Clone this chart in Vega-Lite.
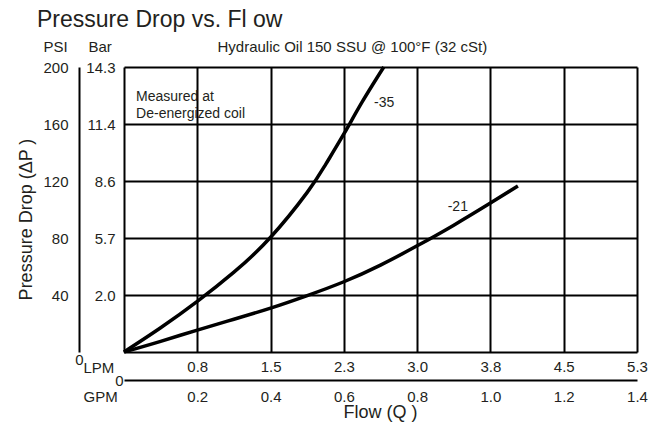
{
  "$schema": "https://vega.github.io/schema/vega-lite/v6.json",
  "width": 513,
  "height": 285,
  "autosize": {"type": "none"},
  "padding": {"left": 124, "top": 67, "right": 20, "bottom": 70},
  "background": "white",
  "config": {
    "font": "Liberation Sans",
    "view": {"stroke": null},
    "axis": {
      "labelFont": "Liberation Sans",
      "titleFont": "Liberation Sans",
      "labelColor": "#231f20",
      "titleColor": "#231f20",
      "titleFontWeight": "normal",
      "labelFontSize": 15,
      "titleFontSize": 15,
      "labelOverlap": false,
      "labelFlush": false,
      "tickSize": 0
    }
  },
  "title": {
    "text": "Pressure Drop vs. Fl ow",
    "anchor": "start",
    "frame": "group",
    "dx": -87,
    "offset": 7,
    "fontSize": 23,
    "fontWeight": "normal",
    "font": "Liberation Sans",
    "color": "#231f20"
  },
  "datasets": {
    "curves": [
      {"series": "-35", "gpm": 0, "psi": 0},
      {"series": "-35", "gpm": 0.1, "psi": 17},
      {"series": "-35", "gpm": 0.2, "psi": 35.5},
      {"series": "-35", "gpm": 0.3, "psi": 56},
      {"series": "-35", "gpm": 0.4, "psi": 80.5},
      {"series": "-35", "gpm": 0.5, "psi": 112},
      {"series": "-35", "gpm": 0.55, "psi": 131.5},
      {"series": "-35", "gpm": 0.6, "psi": 153},
      {"series": "-35", "gpm": 0.65, "psi": 175.5},
      {"series": "-35", "gpm": 0.709, "psi": 200},
      {"series": "-21", "gpm": 0, "psi": 0},
      {"series": "-21", "gpm": 0.1, "psi": 7.5},
      {"series": "-21", "gpm": 0.2, "psi": 15.4},
      {"series": "-21", "gpm": 0.3, "psi": 23},
      {"series": "-21", "gpm": 0.4, "psi": 30.8},
      {"series": "-21", "gpm": 0.5, "psi": 39.6},
      {"series": "-21", "gpm": 0.6, "psi": 49.3},
      {"series": "-21", "gpm": 0.7, "psi": 61},
      {"series": "-21", "gpm": 0.8, "psi": 74.5},
      {"series": "-21", "gpm": 0.9, "psi": 89},
      {"series": "-21", "gpm": 1.0, "psi": 104.5},
      {"series": "-21", "gpm": 1.075, "psi": 116.5}
    ],
    "labels": [
      {"label": "-35", "gpm": 0.71, "psi": 175},
      {"label": "-21", "gpm": 0.911, "psi": 102}
    ],
    "notes": [
      {"note": "Measured at\nDe-energized coil", "gpm": 0.033, "psi": 178.6}
    ]
  },
  "resolve": {"axis": {"x": "independent", "y": "independent"}},
  "layer": [
    {
      "data": {"name": "curves"},
      "transform": [{"filter": "datum.series == '-35'"}],
      "mark": {"type": "line", "color": "black", "strokeWidth": 3.5, "interpolate": "natural"},
      "encoding": {
        "x": {
          "field": "gpm", "type": "quantitative",
          "scale": {"domain": [0, 1.4], "nice": false, "zero": false},
          "axis": {
            "orient": "bottom",
            "values": [0, 0.2, 0.4, 0.6, 0.8, 1.0, 1.2, 1.4],
            "labelExpr": "['','0.8','1.5','2.3','3.0','3.8','4.5','5.3'][round(datum.value*5)]",
            "grid": true, "gridColor": "black", "gridWidth": 2, "gridOpacity": 1,
            "domain": false, "ticks": false, "labelPadding": 7,
            "title": "LPM", "titleX": -41, "titleY": 15, "titleAlign": "left",
            "titleBaseline": "middle", "titleAngle": 0, "titleAnchor": null
          }
        },
        "y": {
          "field": "psi", "type": "quantitative",
          "scale": {"domain": [0, 200], "nice": false},
          "axis": {
            "orient": "left",
            "values": [0, 40, 80, 120, 160, 200],
            "labelExpr": "['','2.0','5.7','8.6','11.4','14.3'][round(datum.value/40)]",
            "grid": true, "gridColor": "black", "gridWidth": 2, "gridOpacity": 1,
            "domain": false, "ticks": false, "labelPadding": 9,
            "title": "Bar", "titleX": -36, "titleY": -21, "titleAlign": "left",
            "titleBaseline": "middle", "titleAngle": 0, "titleAnchor": null
          }
        }
      }
    },
    {
      "data": {"name": "labels"},
      "mark": {"type": "text", "fontSize": 14, "color": "#231f20", "align": "center", "baseline": "middle"},
      "encoding": {
        "x": {
          "field": "gpm", "type": "quantitative",
          "axis": {
            "orient": "bottom", "offset": 28,
            "values": [0, 0.2, 0.4, 0.6, 0.8, 1.0, 1.2, 1.4],
            "labelExpr": "datum.value == 0 ? '0' : format(datum.value, '.1f')",
            "labelAlign": {"condition": {"test": "datum.value == 0", "value": "right"}, "value": "center"},
            "labelBaseline": {"condition": {"test": "datum.value == 0", "value": "middle"}, "value": "top"},
            "labelPadding": {"condition": {"test": "datum.value == 0", "value": 0}, "value": 9},
            "labelOffset": {"condition": {"test": "datum.value == 0", "value": -1}, "value": 0},
            "domain": true, "domainColor": "black", "domainWidth": 2,
            "ticks": false, "grid": false,
            "title": "GPM", "titleX": -41, "titleY": 16, "titleAlign": "left",
            "titleBaseline": "middle", "titleAngle": 0, "titleAnchor": null
          }
        },
        "y": {
          "field": "psi", "type": "quantitative",
          "axis": {
            "orient": "left", "offset": 45,
            "values": [0, 40, 80, 120, 160, 200],
            "labelAlign": {"condition": {"test": "datum.value == 0", "value": "center"}, "value": "right"},
            "labelBaseline": {"condition": {"test": "datum.value == 0", "value": "top"}, "value": "middle"},
            "labelPadding": {"condition": {"test": "datum.value == 0", "value": 0}, "value": 11},
            "domain": true, "domainColor": "black", "domainWidth": 2,
            "ticks": false, "grid": false,
            "title": "PSI", "titleX": -36, "titleY": -21, "titleAlign": "left",
            "titleBaseline": "middle", "titleAngle": 0, "titleAnchor": null
          }
        },
        "text": {"field": "label"}
      }
    },
    {
      "data": {"name": "notes"},
      "mark": {"type": "text", "fontSize": 14, "color": "#231f20", "align": "left", "baseline": "middle", "lineBreak": "\n", "lineHeight": 17},
      "encoding": {
        "x": {
          "field": "gpm", "type": "quantitative",
          "axis": {
            "orient": "top", "labels": false, "ticks": false, "domain": false, "grid": false,
            "title": "Hydraulic Oil 150 SSU @ 100°F (32 cSt)",
            "titleX": 93, "titleY": -21, "titleAlign": "left", "titleBaseline": "middle",
            "titleAngle": 0, "titleAnchor": null
          }
        },
        "y": {
          "field": "psi", "type": "quantitative",
          "axis": {
            "orient": "left", "labels": false, "ticks": false, "domain": false, "grid": false,
            "title": "Pressure Drop (ΔP )", "titleFontSize": 18,
            "titleX": -98, "titleY": 152, "titleAlign": "center", "titleBaseline": "middle",
            "titleAngle": -90, "titleAnchor": null
          }
        },
        "text": {"field": "note"}
      }
    },
    {
      "data": {"name": "curves"},
      "transform": [{"filter": "datum.series == '-21'"}],
      "mark": {"type": "line", "color": "black", "strokeWidth": 3.5, "interpolate": "natural"},
      "encoding": {
        "x": {
          "field": "gpm", "type": "quantitative",
          "axis": {
            "orient": "bottom", "labels": false, "ticks": false, "domain": false, "grid": false,
            "title": "Flow (Q )", "titleFontSize": 18,
            "titleX": 256, "titleY": 60, "titleAlign": "center", "titleBaseline": "middle",
            "titleAngle": 0, "titleAnchor": null
          }
        },
        "y": {"field": "psi", "type": "quantitative", "axis": null}
      }
    }
  ]
}
